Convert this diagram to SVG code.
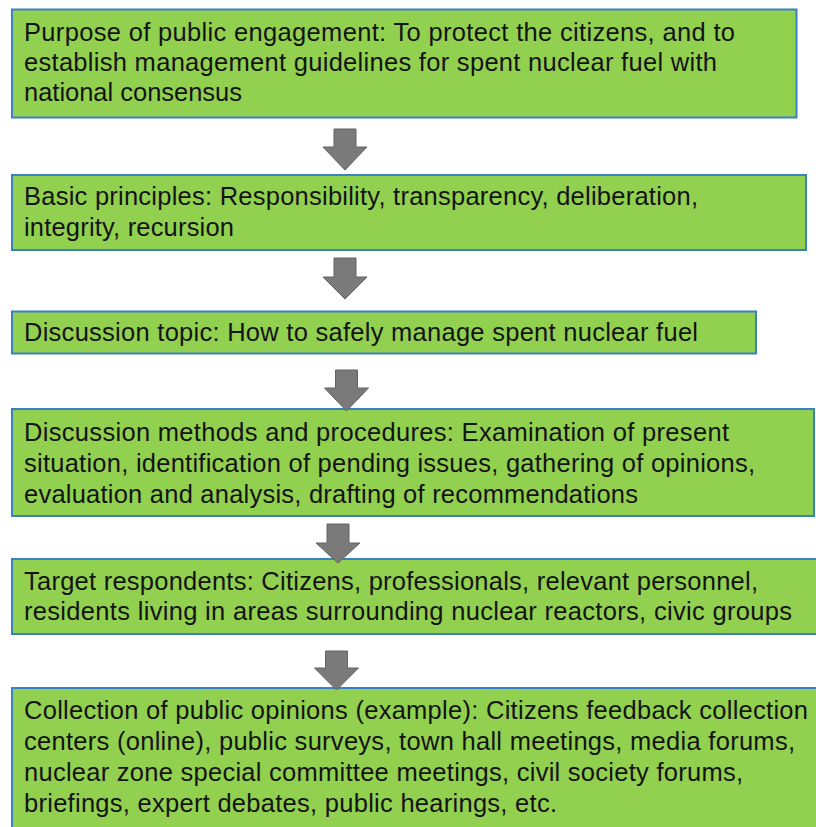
<svg xmlns="http://www.w3.org/2000/svg" width="816" height="827" viewBox="0 0 816 827">
  <style>
    .box { fill: #92d050; stroke: #3a80c4; stroke-width: 2; }
    .label { font-family: "Liberation Sans", Arial, sans-serif; font-size: 25.5px; fill: #141414; }
    .step { fill: #7a7a7a; stroke: #626262; stroke-width: 1; stroke-linejoin: miter; }
  </style>
  <rect width="816" height="827" fill="#ffffff"/>

  <!-- step boxes -->
  <g id="purpose">
    <rect class="box" x="12" y="9.5" width="784.5" height="108"/>
    <text class="label" x="24" y="41" textLength="711" lengthAdjust="spacing">Purpose of public engagement: To protect the citizens, and to</text>
    <text class="label" x="24" y="71" textLength="693" lengthAdjust="spacing">establish management guidelines for spent nuclear fuel with</text>
    <text class="label" x="24" y="101" textLength="218" lengthAdjust="spacing">national consensus</text>
  </g>

  <g id="principles">
    <rect class="box" x="12" y="175" width="794" height="75"/>
    <text class="label" x="24" y="205" textLength="674" lengthAdjust="spacing">Basic principles: Responsibility, transparency, deliberation,</text>
    <text class="label" x="24" y="236" textLength="210" lengthAdjust="spacing">integrity, recursion</text>
  </g>

  <g id="topic">
    <rect class="box" x="12" y="311.5" width="744" height="42"/>
    <text class="label" x="24" y="341" textLength="674" lengthAdjust="spacing">Discussion topic: How to safely manage spent nuclear fuel</text>
  </g>

  <g id="methods">
    <rect class="box" x="12" y="409" width="802" height="107"/>
    <text class="label" x="24" y="441" textLength="705" lengthAdjust="spacing">Discussion methods and procedures: Examination of present</text>
    <text class="label" x="24" y="472" textLength="731" lengthAdjust="spacing">situation, identification of pending issues, gathering of opinions,</text>
    <text class="label" x="24" y="503" textLength="614" lengthAdjust="spacing">evaluation and analysis, drafting of recommendations</text>
  </g>

  <g id="respondents">
    <rect class="box" x="12" y="559" width="810" height="75"/>
    <text class="label" x="24" y="590" textLength="734" lengthAdjust="spacing">Target respondents: Citizens, professionals, relevant personnel,</text>
    <text class="label" x="24" y="620" textLength="768" lengthAdjust="spacing">residents living in areas surrounding nuclear reactors, civic groups</text>
  </g>

  <g id="collection">
    <rect class="box" x="12" y="688" width="810" height="150"/>
    <text class="label" x="24" y="719" textLength="784" lengthAdjust="spacing">Collection of public opinions (example): Citizens feedback collection</text>
    <text class="label" x="24" y="750" textLength="771" lengthAdjust="spacing">centers (online), public surveys, town hall meetings, media forums,</text>
    <text class="label" x="24" y="781" textLength="719" lengthAdjust="spacing">nuclear zone special committee meetings, civil society forums,</text>
    <text class="label" x="24" y="812" textLength="533" lengthAdjust="spacing">briefings, expert debates, public hearings, etc.</text>
  </g>

  <!-- block arrows between steps -->
  <g id="connectors">
    <polygon class="step" points="334,129 356,129 356,147 367,147 345,170 323,147 334,147"/>
    <polygon class="step" points="334,258 356,258 356,277 367,277 345,299 323,277 334,277"/>
    <polygon class="step" points="335.5,370 357.5,370 357.5,388 368.5,388 346.5,411 324.5,388 335.5,388"/>
    <polygon class="step" points="327,524 349,524 349,543 360,543 338,563 316,543 327,543"/>
    <polygon class="step" points="325.5,651 347.5,651 347.5,668 358.5,668 336.5,690 314.5,668 325.5,668"/>
  </g>
</svg>
